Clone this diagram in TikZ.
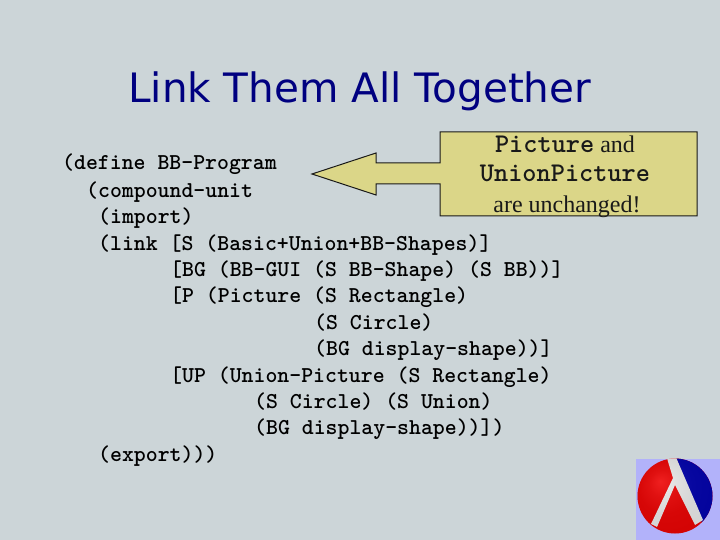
\documentclass[tikz,border=0pt]{standalone}
\usepackage{fontspec}
\setmainfont{Liberation Serif}
\newfontfamily\titlefont{DejaVu Sans}
\definecolor{slidebg}{RGB}{204,213,216}
\definecolor{calloutfill}{RGB}{219,214,136}
\definecolor{titleblue}{RGB}{0,0,128}
\definecolor{logobg}{RGB}{178,178,250}
\usetikzlibrary{positioning}
\tikzset{
  codeline/.style={anchor=base west,inner sep=0pt,font=\ttfamily\bfseries\fontsize{22.7}{24}\selectfont},
  notetext/.style={anchor=base,inner sep=0pt,text=black!90},
}
\begin{document}
\begin{tikzpicture}[x=1pt,y=-1pt]
  \useasboundingbox (0,0) rectangle (720,540);
  \fill[slidebg] (0,0) rectangle (720,540);
  \node[anchor=base west,inner sep=0pt,text=titleblue,font=\titlefont\fontsize{40.5}{42}\selectfont] (title) at (128,103) {Link Them All Together};
  % callout
  \draw[fill=calloutfill,draw=black!90,line width=1pt,line join=miter]
    (440,132) -- (697,132) -- (697,216) -- (440,216) -- (440,184) -- (376,184)
    -- (376,195) -- (312,174) -- (376,153) -- (376,163) -- (440,163) -- cycle;
  \node[notetext,font=\fontsize{24}{26}\selectfont] (noteA) at (565,152.5) {{\ttfamily\bfseries\fontsize{27}{28}\selectfont Picture} and};
  \node[notetext,font=\ttfamily\bfseries\fontsize{27}{28}\selectfont] (noteB) at (565,181.5) {UnionPicture};
  \node[notetext,font=\fontsize{24}{26}\selectfont] (noteC) at (567,212) {are unchanged!};
  % code
  \node[codeline] (c1) at (62,170) {(define BB-Program};
  \node[codeline] (c2) at (86,197) {(compound-unit};
  \node[codeline] (c3) at (98,223) {(import)};
  \node[codeline] (c4) at (98,250) {(link [S (Basic+Union+BB-Shapes)]};
  \node[codeline] (c5) at (170,276) {[BG (BB-GUI (S BB-Shape) (S BB))]};
  \node[codeline] (c6) at (170,302) {[P (Picture (S Rectangle)};
  \node[codeline] (c7) at (314,329) {(S Circle)};
  \node[codeline] (c8) at (314,355) {(BG display-shape))]};
  \node[codeline] (c9) at (170,382) {[UP (Union-Picture (S Rectangle)};
  \node[codeline] (c10) at (254,408) {(S Circle) (S Union)};
  \node[codeline] (c11) at (254,434) {(BG display-shape))])};
  \node[codeline] (c12) at (98,461) {(export)))};
  % logo
  \fill[logobg] (636,459) rectangle (720,540);
  \begin{scope}
    \clip (675,496) circle (37.5);
    \fill[red!95!black] (630,450) rectangle (720,540);
    \fill[blue!70!black] (673,450) -- (720,450) -- (720,535) -- (703,525) -- cycle;
    \fill[white!90!gray] (666,455) -- (675,455) -- (703,520) -- (695,525) -- (675,485) -- (657,527) -- (651,524) -- (673,478) -- cycle;
    \shade[ball color=black!70,opacity=.14] (675,496) circle (37.5);
  \end{scope}
\end{tikzpicture}
\end{document}
